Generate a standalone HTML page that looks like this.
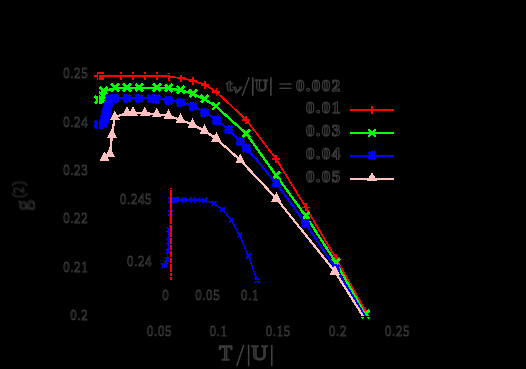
<!DOCTYPE html><html><head><meta charset="utf-8"><title>plot</title><style>html,body{margin:0;padding:0;background:#000;}svg{display:block}text{font-family:"Liberation Serif",serif;}</style></head><body>
<svg width="526" height="369" viewBox="0 0 526 369">
<rect width="526" height="369" fill="#000"/>
<defs><clipPath id="cm"><rect x="90" y="60" width="320" height="256.5"/></clipPath><clipPath id="ci"><rect x="150" y="180" width="120" height="100.5"/></clipPath></defs>
<g shape-rendering="crispEdges">
<g clip-path="url(#cm)"><polyline fill="none" stroke="#ff0000" stroke-width="1.8" stroke-linejoin="round" points="98.0,76.0 121.0,76.0 133.0,76.0 145.0,76.0 157.0,76.0 168.8,76.5 181.0,78.2 193.0,80.7 204.8,84.8 216.3,91.8 246.2,119.8 276.1,159.0 305.8,207.3 335.7,258.0 365.5,311.0 368.2,316.5"/></g>
<rect x="97" y="72" width="7" height="8" fill="#ff0000"/>
<path d="M94.0 76.0H102.0M98.0 72.0V80.0" stroke="#ff0000" stroke-width="1.6" fill="none"/>
<path d="M117.0 76.0H125.0M121.0 72.0V80.0" stroke="#ff0000" stroke-width="1.6" fill="none"/>
<path d="M129.0 76.0H137.0M133.0 72.0V80.0" stroke="#ff0000" stroke-width="1.6" fill="none"/>
<path d="M141.0 76.0H149.0M145.0 72.0V80.0" stroke="#ff0000" stroke-width="1.6" fill="none"/>
<path d="M153.0 76.0H161.0M157.0 72.0V80.0" stroke="#ff0000" stroke-width="1.6" fill="none"/>
<path d="M164.8 76.5H172.8M168.8 72.5V80.5" stroke="#ff0000" stroke-width="1.6" fill="none"/>
<path d="M177.0 78.2H185.0M181.0 74.2V82.2" stroke="#ff0000" stroke-width="1.6" fill="none"/>
<path d="M189.0 80.7H197.0M193.0 76.7V84.7" stroke="#ff0000" stroke-width="1.6" fill="none"/>
<path d="M200.8 84.8H208.8M204.8 80.8V88.8" stroke="#ff0000" stroke-width="1.6" fill="none"/>
<path d="M212.3 91.8H220.3M216.3 87.8V95.8" stroke="#ff0000" stroke-width="1.6" fill="none"/>
<path d="M242.2 119.8H250.2M246.2 115.8V123.8" stroke="#ff0000" stroke-width="1.6" fill="none"/>
<path d="M272.1 159.0H280.1M276.1 155.0V163.0" stroke="#ff0000" stroke-width="1.6" fill="none"/>
<path d="M301.8 207.3H309.8M305.8 203.3V211.3" stroke="#ff0000" stroke-width="1.6" fill="none"/>
<path d="M331.7 258.0H339.7M335.7 254.0V262.0" stroke="#ff0000" stroke-width="1.6" fill="none"/>
<path d="M361.5 311.0H369.5M365.5 307.0V315.0" stroke="#ff0000" stroke-width="1.6" fill="none"/>
</g>
<g shape-rendering="crispEdges">
<g clip-path="url(#cm)"><polyline fill="none" stroke="#00ff00" stroke-width="2.3" stroke-linejoin="round" points="98.5,100.2 102.0,100.0 102.5,96.0 103.5,91.4 115.0,88.0 127.0,88.0 139.2,88.0 156.9,88.0 168.8,88.5 180.8,90.3 193.0,93.9 204.8,99.3 216.0,106.5 246.4,133.8 276.4,175.8 305.8,216.0 336.0,262.7 365.5,314.6 366.6,316.5"/></g>
<path d="M94.7 95.9L102.3 103.5M94.7 103.5L102.3 95.9" stroke="#00ff00" stroke-width="2.6" fill="none"/>
<path d="M98.2 95.7L105.8 103.3M98.2 103.3L105.8 95.7" stroke="#00ff00" stroke-width="2.6" fill="none"/>
<path d="M98.7 91.7L106.3 99.3M98.7 99.3L106.3 91.7" stroke="#00ff00" stroke-width="2.6" fill="none"/>
<path d="M99.7 87.1L107.3 94.7M99.7 94.7L107.3 87.1" stroke="#00ff00" stroke-width="2.6" fill="none"/>
<path d="M111.2 83.7L118.8 91.3M111.2 91.3L118.8 83.7" stroke="#00ff00" stroke-width="2.6" fill="none"/>
<path d="M123.2 83.7L130.8 91.3M123.2 91.3L130.8 83.7" stroke="#00ff00" stroke-width="2.6" fill="none"/>
<path d="M135.4 83.7L143.0 91.3M135.4 91.3L143.0 83.7" stroke="#00ff00" stroke-width="2.6" fill="none"/>
<path d="M153.1 83.7L160.7 91.3M153.1 91.3L160.7 83.7" stroke="#00ff00" stroke-width="2.6" fill="none"/>
<path d="M165.0 84.2L172.6 91.8M165.0 91.8L172.6 84.2" stroke="#00ff00" stroke-width="2.6" fill="none"/>
<path d="M177.0 86.0L184.6 93.6M177.0 93.6L184.6 86.0" stroke="#00ff00" stroke-width="2.6" fill="none"/>
<path d="M189.2 89.6L196.8 97.2M189.2 97.2L196.8 89.6" stroke="#00ff00" stroke-width="2.6" fill="none"/>
<path d="M201.0 95.0L208.6 102.6M201.0 102.6L208.6 95.0" stroke="#00ff00" stroke-width="2.6" fill="none"/>
<path d="M212.2 102.2L219.8 109.8M212.2 109.8L219.8 102.2" stroke="#00ff00" stroke-width="2.6" fill="none"/>
<path d="M242.6 129.5L250.2 137.1M242.6 137.1L250.2 129.5" stroke="#00ff00" stroke-width="2.6" fill="none"/>
<path d="M272.6 171.5L280.2 179.1M272.6 179.1L280.2 171.5" stroke="#00ff00" stroke-width="2.6" fill="none"/>
<path d="M302.0 211.7L309.6 219.3M302.0 219.3L309.6 211.7" stroke="#00ff00" stroke-width="2.6" fill="none"/>
<path d="M332.2 258.4L339.8 266.0M332.2 266.0L339.8 258.4" stroke="#00ff00" stroke-width="2.6" fill="none"/>
<path d="M361.7 310.3L369.3 317.9M361.7 317.9L369.3 310.3" stroke="#00ff00" stroke-width="2.6" fill="none"/>
</g>
<g shape-rendering="crispEdges">
<g clip-path="url(#cm)"><polyline fill="none" stroke="#0000ff" stroke-width="2.3" stroke-linejoin="round" points="98.5,124.0 103.4,123.5 104.0,121.0 104.6,118.5 105.3,116.0 106.0,113.7 106.6,111.0 107.2,108.0 108.0,105.0 108.8,101.5 109.5,98.0 112.0,98.0 114.5,98.0 127.0,98.0 139.0,98.0 151.5,98.3 155.7,98.6 168.8,99.9 180.8,102.0 193.0,106.1 204.8,112.0 216.3,120.0 228.6,129.4 240.2,141.2 246.2,147.6 276.0,183.1 305.3,222.9 335.6,268.2 365.2,316.5"/></g>
<path d="M94.0 124.5H103.0M98.5 120.0V129.0" stroke="#0000ff" stroke-width="2" fill="none"/><path d="M94.8 120.8L102.2 128.2M94.8 128.2L102.2 120.8" stroke="#0000ff" stroke-width="3.2" fill="none"/>
<path d="M98.9 124.0H107.9M103.4 119.5V128.5" stroke="#0000ff" stroke-width="2" fill="none"/><path d="M99.7 120.3L107.1 127.7M99.7 127.7L107.1 120.3" stroke="#0000ff" stroke-width="3.2" fill="none"/>
<path d="M99.5 121.5H108.5M104.0 117.0V126.0" stroke="#0000ff" stroke-width="2" fill="none"/><path d="M100.3 117.8L107.7 125.2M100.3 125.2L107.7 117.8" stroke="#0000ff" stroke-width="3.2" fill="none"/>
<path d="M100.1 119.0H109.1M104.6 114.5V123.5" stroke="#0000ff" stroke-width="2" fill="none"/><path d="M100.9 115.3L108.3 122.7M100.9 122.7L108.3 115.3" stroke="#0000ff" stroke-width="3.2" fill="none"/>
<path d="M100.8 116.5H109.8M105.3 112.0V121.0" stroke="#0000ff" stroke-width="2" fill="none"/><path d="M101.6 112.8L109.0 120.2M101.6 120.2L109.0 112.8" stroke="#0000ff" stroke-width="3.2" fill="none"/>
<path d="M101.5 114.2H110.5M106.0 109.7V118.7" stroke="#0000ff" stroke-width="2" fill="none"/><path d="M102.3 110.5L109.7 117.9M102.3 117.9L109.7 110.5" stroke="#0000ff" stroke-width="3.2" fill="none"/>
<path d="M102.1 111.5H111.1M106.6 107.0V116.0" stroke="#0000ff" stroke-width="2" fill="none"/><path d="M102.9 107.8L110.3 115.2M102.9 115.2L110.3 107.8" stroke="#0000ff" stroke-width="3.2" fill="none"/>
<path d="M102.7 108.5H111.7M107.2 104.0V113.0" stroke="#0000ff" stroke-width="2" fill="none"/><path d="M103.5 104.8L110.9 112.2M103.5 112.2L110.9 104.8" stroke="#0000ff" stroke-width="3.2" fill="none"/>
<path d="M103.5 105.5H112.5M108.0 101.0V110.0" stroke="#0000ff" stroke-width="2" fill="none"/><path d="M104.3 101.8L111.7 109.2M104.3 109.2L111.7 101.8" stroke="#0000ff" stroke-width="3.2" fill="none"/>
<path d="M104.3 102.0H113.3M108.8 97.5V106.5" stroke="#0000ff" stroke-width="2" fill="none"/><path d="M105.1 98.3L112.5 105.7M105.1 105.7L112.5 98.3" stroke="#0000ff" stroke-width="3.2" fill="none"/>
<path d="M105.0 98.5H114.0M109.5 94.0V103.0" stroke="#0000ff" stroke-width="2" fill="none"/><path d="M105.8 94.8L113.2 102.2M105.8 102.2L113.2 94.8" stroke="#0000ff" stroke-width="3.2" fill="none"/>
<path d="M107.5 98.5H116.5M112.0 94.0V103.0" stroke="#0000ff" stroke-width="2" fill="none"/><path d="M108.3 94.8L115.7 102.2M108.3 102.2L115.7 94.8" stroke="#0000ff" stroke-width="3.2" fill="none"/>
<path d="M110.0 98.5H119.0M114.5 94.0V103.0" stroke="#0000ff" stroke-width="2" fill="none"/><path d="M110.8 94.8L118.2 102.2M110.8 102.2L118.2 94.8" stroke="#0000ff" stroke-width="3.2" fill="none"/>
<path d="M122.5 98.5H131.5M127.0 94.0V103.0" stroke="#0000ff" stroke-width="2" fill="none"/><path d="M123.3 94.8L130.7 102.2M123.3 102.2L130.7 94.8" stroke="#0000ff" stroke-width="3.2" fill="none"/>
<path d="M134.5 98.5H143.5M139.0 94.0V103.0" stroke="#0000ff" stroke-width="2" fill="none"/><path d="M135.3 94.8L142.7 102.2M135.3 102.2L142.7 94.8" stroke="#0000ff" stroke-width="3.2" fill="none"/>
<path d="M147.0 98.8H156.0M151.5 94.3V103.3" stroke="#0000ff" stroke-width="2" fill="none"/><path d="M147.8 95.1L155.2 102.5M147.8 102.5L155.2 95.1" stroke="#0000ff" stroke-width="3.2" fill="none"/>
<path d="M151.2 99.1H160.2M155.7 94.6V103.6" stroke="#0000ff" stroke-width="2" fill="none"/><path d="M152.0 95.4L159.4 102.8M152.0 102.8L159.4 95.4" stroke="#0000ff" stroke-width="3.2" fill="none"/>
<path d="M164.3 100.4H173.3M168.8 95.9V104.9" stroke="#0000ff" stroke-width="2" fill="none"/><path d="M165.1 96.7L172.5 104.1M165.1 104.1L172.5 96.7" stroke="#0000ff" stroke-width="3.2" fill="none"/>
<path d="M176.3 102.5H185.3M180.8 98.0V107.0" stroke="#0000ff" stroke-width="2" fill="none"/><path d="M177.1 98.8L184.5 106.2M177.1 106.2L184.5 98.8" stroke="#0000ff" stroke-width="3.2" fill="none"/>
<path d="M188.5 106.6H197.5M193.0 102.1V111.1" stroke="#0000ff" stroke-width="2" fill="none"/><path d="M189.3 102.9L196.7 110.3M189.3 110.3L196.7 102.9" stroke="#0000ff" stroke-width="3.2" fill="none"/>
<path d="M200.3 112.5H209.3M204.8 108.0V117.0" stroke="#0000ff" stroke-width="2" fill="none"/><path d="M201.1 108.8L208.5 116.2M201.1 116.2L208.5 108.8" stroke="#0000ff" stroke-width="3.2" fill="none"/>
<path d="M211.8 120.5H220.8M216.3 116.0V125.0" stroke="#0000ff" stroke-width="2" fill="none"/><path d="M212.6 116.8L220.0 124.2M212.6 124.2L220.0 116.8" stroke="#0000ff" stroke-width="3.2" fill="none"/>
<path d="M224.1 129.9H233.1M228.6 125.4V134.4" stroke="#0000ff" stroke-width="2" fill="none"/><path d="M224.9 126.2L232.3 133.6M224.9 133.6L232.3 126.2" stroke="#0000ff" stroke-width="3.2" fill="none"/>
<path d="M235.7 141.7H244.7M240.2 137.2V146.2" stroke="#0000ff" stroke-width="2" fill="none"/><path d="M236.5 138.0L243.9 145.4M236.5 145.4L243.9 138.0" stroke="#0000ff" stroke-width="3.2" fill="none"/>
<path d="M241.7 148.1H250.7M246.2 143.6V152.6" stroke="#0000ff" stroke-width="2" fill="none"/><path d="M242.5 144.4L249.9 151.8M242.5 151.8L249.9 144.4" stroke="#0000ff" stroke-width="3.2" fill="none"/>
<path d="M271.5 183.6H280.5M276.0 179.1V188.1" stroke="#0000ff" stroke-width="2" fill="none"/><path d="M272.3 179.9L279.7 187.3M272.3 187.3L279.7 179.9" stroke="#0000ff" stroke-width="3.2" fill="none"/>
<path d="M300.8 223.4H309.8M305.3 218.9V227.9" stroke="#0000ff" stroke-width="2" fill="none"/><path d="M301.6 219.7L309.0 227.1M301.6 227.1L309.0 219.7" stroke="#0000ff" stroke-width="3.2" fill="none"/>
<path d="M331.1 268.7H340.1M335.6 264.2V273.2" stroke="#0000ff" stroke-width="2" fill="none"/><path d="M331.9 265.0L339.3 272.4M331.9 272.4L339.3 265.0" stroke="#0000ff" stroke-width="3.2" fill="none"/>
</g>
<g shape-rendering="crispEdges">
<g clip-path="url(#cm)"><polyline fill="none" stroke="#ffc0c0" stroke-width="2.3" stroke-linejoin="round" points="104.4,158.0 110.0,153.5 112.0,134.8 114.8,117.0 127.0,113.0 133.0,113.0 144.9,113.2 156.7,114.2 168.6,115.8 180.7,119.8 192.7,124.8 204.5,130.8 216.3,138.7 240.3,160.2 276.4,198.5 334.9,271.5 363.3,316.5"/></g>
<path d="M104.4 151.3L109.4 161.0L99.4 161.0Z" fill="#ffc0c0"/>
<path d="M110.0 146.8L115.0 156.5L105.0 156.5Z" fill="#ffc0c0"/>
<path d="M112.0 128.1L117.0 137.8L107.0 137.8Z" fill="#ffc0c0"/>
<path d="M114.8 110.3L119.8 120.0L109.8 120.0Z" fill="#ffc0c0"/>
<path d="M127.0 106.3L132.0 116.0L122.0 116.0Z" fill="#ffc0c0"/>
<path d="M133.0 106.3L138.0 116.0L128.0 116.0Z" fill="#ffc0c0"/>
<path d="M144.9 106.5L149.9 116.2L139.9 116.2Z" fill="#ffc0c0"/>
<path d="M156.7 107.5L161.7 117.2L151.7 117.2Z" fill="#ffc0c0"/>
<path d="M168.6 109.1L173.6 118.8L163.6 118.8Z" fill="#ffc0c0"/>
<path d="M180.7 113.1L185.7 122.8L175.7 122.8Z" fill="#ffc0c0"/>
<path d="M192.7 118.1L197.7 127.8L187.7 127.8Z" fill="#ffc0c0"/>
<path d="M204.5 124.1L209.5 133.8L199.5 133.8Z" fill="#ffc0c0"/>
<path d="M216.3 132.0L221.3 141.7L211.3 141.7Z" fill="#ffc0c0"/>
<path d="M240.3 153.5L245.3 163.2L235.3 163.2Z" fill="#ffc0c0"/>
<path d="M276.4 191.8L281.4 201.5L271.4 201.5Z" fill="#ffc0c0"/>
<path d="M334.9 264.8L339.9 274.5L329.9 274.5Z" fill="#ffc0c0"/>
</g>
<g shape-rendering="crispEdges">
<g clip-path="url(#ci)"><polyline fill="none" stroke="#0000ff" stroke-width="1.5" stroke-linejoin="round" points="163.6,265.6 165.4,265.2 166.9,259.8 168.0,251.6 168.8,241.5 169.2,229.5 170.4,212.7 170.4,200.0 174.3,200.0 176.2,200.0 184.0,200.0 192.6,200.0 201.0,200.1 204.6,200.4 213.7,203.4 222.5,209.5 231.2,220.1 239.5,234.9 248.4,255.9 257.2,280.5"/></g>
<path d="M161.2 263.2L166.0 268.0M161.2 268.0L166.0 263.2" stroke="#0000ff" stroke-width="1.5" fill="none"/>
<path d="M163.0 262.8L167.8 267.6M163.0 267.6L167.8 262.8" stroke="#0000ff" stroke-width="1.5" fill="none"/>
<path d="M164.5 257.4L169.3 262.2M164.5 262.2L169.3 257.4" stroke="#0000ff" stroke-width="1.5" fill="none"/>
<path d="M165.6 249.2L170.4 254.0M165.6 254.0L170.4 249.2" stroke="#0000ff" stroke-width="1.5" fill="none"/>
<path d="M166.4 239.1L171.2 243.9M166.4 243.9L171.2 239.1" stroke="#0000ff" stroke-width="1.5" fill="none"/>
<path d="M166.8 227.1L171.6 231.9M166.8 231.9L171.6 227.1" stroke="#0000ff" stroke-width="1.5" fill="none"/>
<path d="M168.0 210.3L172.8 215.1M168.0 215.1L172.8 210.3" stroke="#0000ff" stroke-width="1.5" fill="none"/>
<path d="M168.0 197.6L172.8 202.4M168.0 202.4L172.8 197.6" stroke="#0000ff" stroke-width="1.5" fill="none"/>
<path d="M171.9 197.6L176.7 202.4M171.9 202.4L176.7 197.6" stroke="#0000ff" stroke-width="1.5" fill="none"/>
<path d="M173.8 197.6L178.6 202.4M173.8 202.4L178.6 197.6" stroke="#0000ff" stroke-width="1.5" fill="none"/>
<path d="M181.6 197.6L186.4 202.4M181.6 202.4L186.4 197.6" stroke="#0000ff" stroke-width="1.5" fill="none"/>
<path d="M190.2 197.6L195.0 202.4M190.2 202.4L195.0 197.6" stroke="#0000ff" stroke-width="1.5" fill="none"/>
<path d="M198.6 197.7L203.4 202.5M198.6 202.5L203.4 197.7" stroke="#0000ff" stroke-width="1.5" fill="none"/>
<path d="M202.2 198.0L207.0 202.8M202.2 202.8L207.0 198.0" stroke="#0000ff" stroke-width="1.5" fill="none"/>
<path d="M211.3 201.0L216.1 205.8M211.3 205.8L216.1 201.0" stroke="#0000ff" stroke-width="1.5" fill="none"/>
<path d="M220.1 207.1L224.9 211.9M220.1 211.9L224.9 207.1" stroke="#0000ff" stroke-width="1.5" fill="none"/>
<path d="M228.8 217.7L233.6 222.5M228.8 222.5L233.6 217.7" stroke="#0000ff" stroke-width="1.5" fill="none"/>
<path d="M237.1 232.5L241.9 237.3M237.1 237.3L241.9 232.5" stroke="#0000ff" stroke-width="1.5" fill="none"/>
<path d="M246.0 253.5L250.8 258.3M246.0 258.3L250.8 253.5" stroke="#0000ff" stroke-width="1.5" fill="none"/>
<path d="M254.8 278.1L259.6 282.9M254.8 282.9L259.6 278.1" stroke="#0000ff" stroke-width="1.5" fill="none"/>
<path d="M171 188v1M171 190V223.6M171 224.6V237.4M171 238.2V243.5M171 244.5V250.3M171 251.2V257M171 258.4V262.9M171 263.8V271.6M171 272.7V275.6M171 276.7V279.7" stroke="#ff0000" stroke-width="2" fill="none"/>
</g>
<rect x="98.5" y="74.5" width="299" height="242" fill="none" stroke="#000" stroke-width="1" shape-rendering="crispEdges"/>
<path d="M163.5 255V275M250 280.5H263" stroke="#000" stroke-width="1" fill="none" shape-rendering="crispEdges"/>
<g shape-rendering="crispEdges">
<path d="M350 110.0H394" stroke="#ff0000" stroke-width="2"/>
<path d="M368.0 110.0H376.0M372.0 106.0V114.0" stroke="#ff0000" stroke-width="1.6" fill="none"/>
<path d="M350 133.0H394" stroke="#00ff00" stroke-width="2"/>
<path d="M368.2 129.2L375.8 136.8M368.2 136.8L375.8 129.2" stroke="#00ff00" stroke-width="2.6" fill="none"/>
<path d="M350 156.0H394" stroke="#0000ff" stroke-width="2"/>
<path d="M367.5 155.5H376.5M372.0 151.0V160.0" stroke="#0000ff" stroke-width="2" fill="none"/><path d="M368.3 151.8L375.7 159.2M368.3 159.2L375.7 151.8" stroke="#0000ff" stroke-width="3.2" fill="none"/>
<path d="M350 179.0H394" stroke="#ffc0c0" stroke-width="2"/>
<path d="M372.0 171.9L377.0 181.0L367.0 181.0Z" fill="#ffc0c0"/>
</g>
<g opacity="0.999">
<text transform="translate(88.30,78.40) scale(0.840,1)" font-size="15.4" text-anchor="end" font-weight="normal" fill="#000" stroke="#3b3b3b" stroke-width="0.85"  letter-spacing="0.74">0.25</text>
<text transform="translate(88.30,126.68) scale(0.840,1)" font-size="15.4" text-anchor="end" font-weight="normal" fill="#000" stroke="#3b3b3b" stroke-width="0.85"  letter-spacing="0.74">0.24</text>
<text transform="translate(88.30,174.96) scale(0.840,1)" font-size="15.4" text-anchor="end" font-weight="normal" fill="#000" stroke="#3b3b3b" stroke-width="0.85"  letter-spacing="0.74">0.23</text>
<text transform="translate(88.30,223.24) scale(0.840,1)" font-size="15.4" text-anchor="end" font-weight="normal" fill="#000" stroke="#3b3b3b" stroke-width="0.85"  letter-spacing="0.74">0.22</text>
<text transform="translate(88.30,271.52) scale(0.840,1)" font-size="15.4" text-anchor="end" font-weight="normal" fill="#000" stroke="#3b3b3b" stroke-width="0.85"  letter-spacing="0.74">0.21</text>
<text transform="translate(88.30,319.80) scale(0.840,1)" font-size="15.4" text-anchor="end" font-weight="normal" fill="#000" stroke="#3b3b3b" stroke-width="0.85"  letter-spacing="0.74">0.2</text>
<text transform="translate(159.60,335.50) scale(0.840,1)" font-size="15.4" text-anchor="middle" font-weight="normal" fill="#000" stroke="#3b3b3b" stroke-width="0.85"  letter-spacing="0.74">0.05</text>
<text transform="translate(218.50,335.50) scale(0.840,1)" font-size="15.4" text-anchor="middle" font-weight="normal" fill="#000" stroke="#3b3b3b" stroke-width="0.85"  letter-spacing="0.74">0.1</text>
<text transform="translate(278.30,335.50) scale(0.840,1)" font-size="15.4" text-anchor="middle" font-weight="normal" fill="#000" stroke="#3b3b3b" stroke-width="0.85"  letter-spacing="0.74">0.15</text>
<text transform="translate(338.00,335.50) scale(0.840,1)" font-size="15.4" text-anchor="middle" font-weight="normal" fill="#000" stroke="#3b3b3b" stroke-width="0.85"  letter-spacing="0.74">0.2</text>
<text transform="translate(397.60,335.50) scale(0.840,1)" font-size="15.4" text-anchor="middle" font-weight="normal" fill="#000" stroke="#3b3b3b" stroke-width="0.85"  letter-spacing="0.74">0.25</text>
<text transform="translate(152.20,204.10) scale(0.840,1)" font-size="15.4" text-anchor="end" font-weight="normal" fill="#000" stroke="#3b3b3b" stroke-width="0.85"  letter-spacing="0.74">0.245</text>
<text transform="translate(152.20,266.00) scale(0.840,1)" font-size="15.4" text-anchor="end" font-weight="normal" fill="#000" stroke="#3b3b3b" stroke-width="0.85"  letter-spacing="0.74">0.24</text>
<text transform="translate(165.80,300.40) scale(0.840,1)" font-size="15.4" text-anchor="middle" font-weight="normal" fill="#000" stroke="#3b3b3b" stroke-width="0.85"  letter-spacing="0.74">0</text>
<text transform="translate(207.70,300.40) scale(0.840,1)" font-size="15.4" text-anchor="middle" font-weight="normal" fill="#000" stroke="#3b3b3b" stroke-width="0.85"  letter-spacing="0.74">0.05</text>
<text transform="translate(250.10,300.40) scale(0.840,1)" font-size="15.4" text-anchor="middle" font-weight="normal" fill="#000" stroke="#3b3b3b" stroke-width="0.85"  letter-spacing="0.74">0.1</text>
<text transform="translate(225.70,360.30) scale(1.000,1)" font-size="21" text-anchor="middle" font-weight="normal" fill="#000" stroke="#3b3b3b" stroke-width="1.6" >T</text>
<path d="M236.80 366.00L243.80 344.70" stroke="#444" stroke-width="1.5" fill="none"/>
<path d="M248.60 344.70L248.60 366.00" stroke="#444" stroke-width="1.5" fill="none"/>
<text transform="translate(259.50,360.30) scale(1.050,1)" font-size="21" text-anchor="middle" font-weight="normal" fill="#000" stroke="#3b3b3b" stroke-width="1.6" >U</text>
<path d="M271.80 344.70L271.80 366.00" stroke="#444" stroke-width="1.5" fill="none"/>
<g transform="translate(29.7,210.6) rotate(-90)">
<text transform="translate(0.00,0.00) scale(1.000,1)" font-size="21" text-anchor="start" font-weight="normal" fill="#000" stroke="#2c2c2c" stroke-width="1.2" >g</text>
<text transform="translate(12.40,-6.40) scale(0.900,1)" font-size="17.5" text-anchor="start" font-weight="normal" fill="#000" stroke="#2c2c2c" stroke-width="0.8" >(</text>
<text transform="translate(17.20,-6.40) scale(0.840,1)" font-size="15.4" text-anchor="start" font-weight="normal" fill="#000" stroke="#2c2c2c" stroke-width="0.85" >2</text>
<text transform="translate(24.60,-6.40) scale(0.900,1)" font-size="17.5" text-anchor="start" font-weight="normal" fill="#000" stroke="#2c2c2c" stroke-width="0.8" >)</text>
</g>
<text transform="translate(226.00,91.00) scale(1.150,1)" font-size="16.9" text-anchor="start" font-weight="bold" fill="#000" stroke="#3b3b3b" stroke-width="1.25" >t</text>
<text transform="translate(232.60,93.00) scale(1.600,1)" font-size="13" text-anchor="start" font-weight="normal" fill="#000" stroke="#3b3b3b" stroke-width="0.8" font-style="italic">ν</text>
<path d="M242.20 95.70L249.20 77.20" stroke="#444" stroke-width="1.4" fill="none"/>
<path d="M252.80 77.20L252.80 95.70" stroke="#444" stroke-width="1.6" fill="none"/>
<text transform="translate(261.30,91.00) scale(1.050,1)" font-size="16.9" text-anchor="middle" font-weight="bold" fill="#000" stroke="#3b3b3b" stroke-width="1.25" >U</text>
<path d="M270.90 77.20L270.90 95.70" stroke="#444" stroke-width="1.6" fill="none"/>
<path d="M279.30 84.00L291.50 84.00" stroke="#444" stroke-width="1.3" fill="none"/>
<path d="M279.30 88.30L291.50 88.30" stroke="#444" stroke-width="1.3" fill="none"/>
<text transform="translate(341.80,90.80) scale(1.000,1)" font-size="16.9" text-anchor="end" font-weight="bold" fill="#000" stroke="#3b3b3b" stroke-width="1.25"  letter-spacing="1.55">0.002</text>
<text transform="translate(341.80,113.00) scale(1.000,1)" font-size="16.9" text-anchor="end" font-weight="bold" fill="#000" stroke="#3b3b3b" stroke-width="1.25"  letter-spacing="1.55">0.01</text>
<text transform="translate(341.80,136.00) scale(1.000,1)" font-size="16.9" text-anchor="end" font-weight="bold" fill="#000" stroke="#3b3b3b" stroke-width="1.25"  letter-spacing="1.55">0.03</text>
<text transform="translate(341.80,159.00) scale(1.000,1)" font-size="16.9" text-anchor="end" font-weight="bold" fill="#000" stroke="#3b3b3b" stroke-width="1.25"  letter-spacing="1.55">0.04</text>
<text transform="translate(341.80,182.00) scale(1.000,1)" font-size="16.9" text-anchor="end" font-weight="bold" fill="#000" stroke="#3b3b3b" stroke-width="1.25"  letter-spacing="1.55">0.05</text>
</g>
</svg></body></html>
